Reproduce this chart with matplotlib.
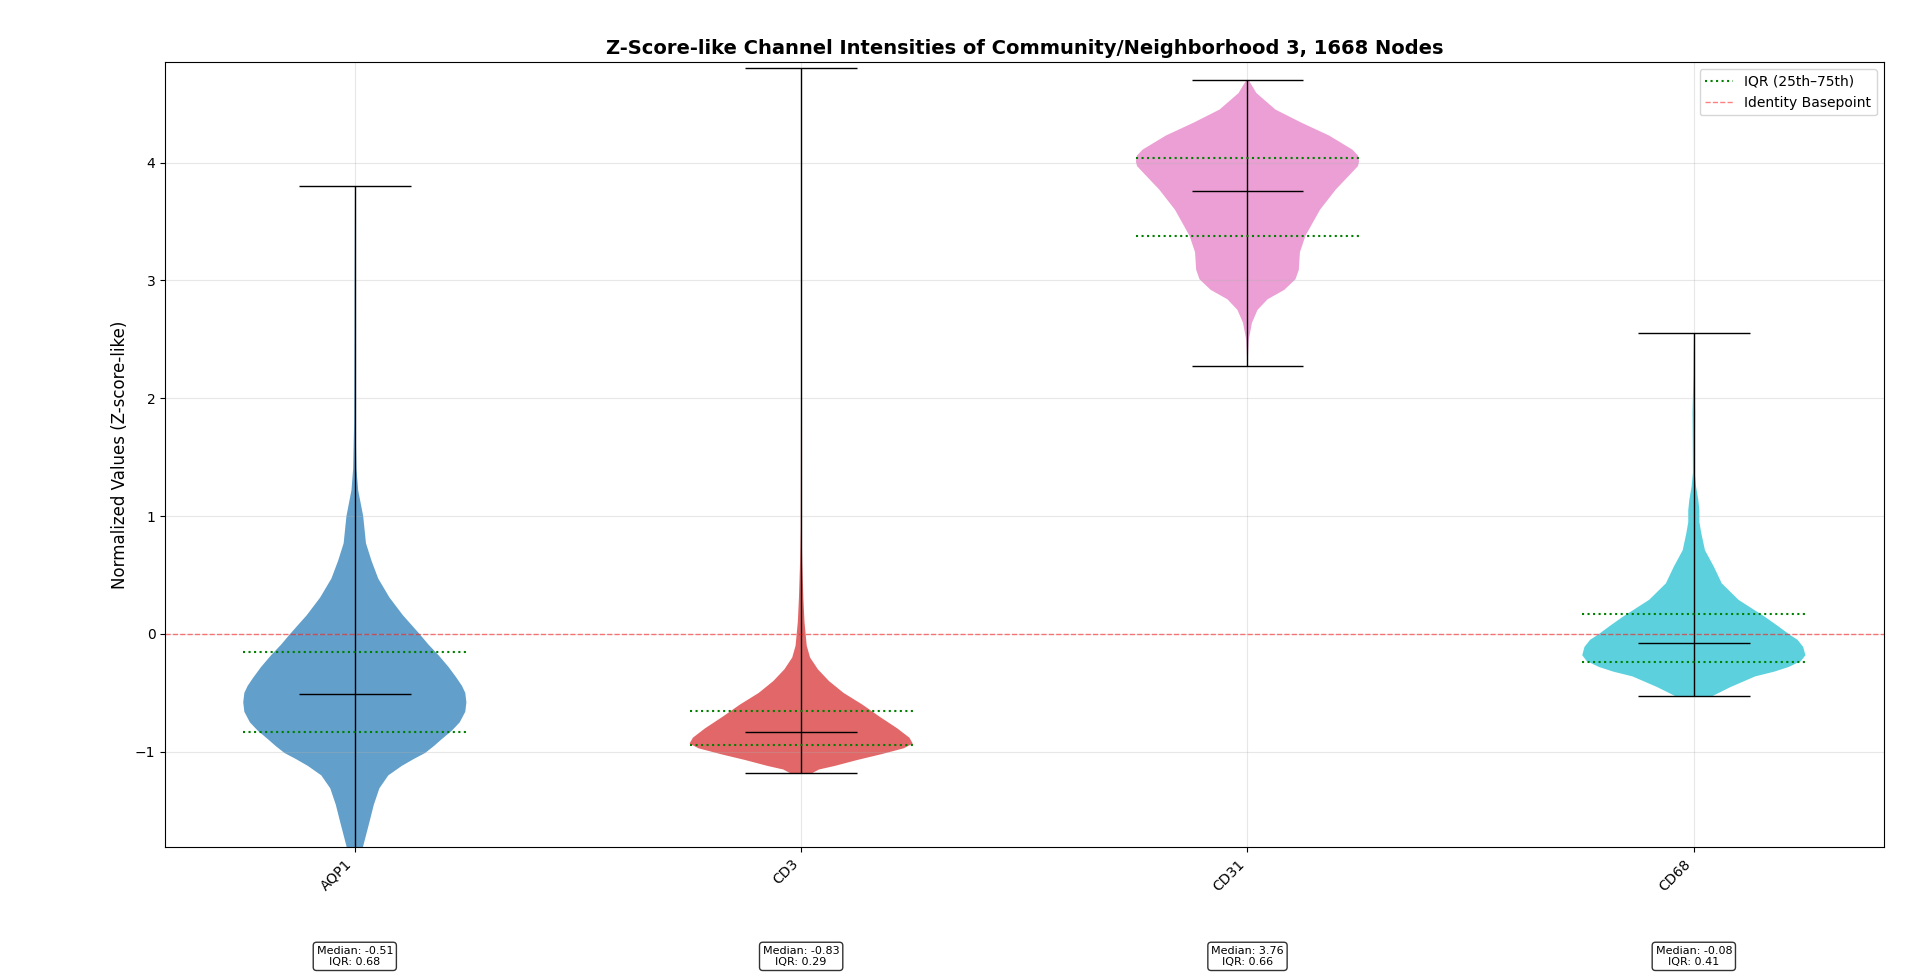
import numpy as np
import matplotlib
matplotlib.use("Agg")
import matplotlib.pyplot as plt
import matplotlib.transforms as mtransforms

channels = ["AQP1", "CD3", "CD31", "CD68"]
medians = [-0.51, -0.83, 3.76, -0.08]
q25 = [-0.83, -0.94, 3.38, -0.24]
q75 = [-0.15, -0.65, 4.04, 0.17]
iqr_vals = [0.68, 0.29, 0.66, 0.41]
mins = [-2.10, -1.18, 2.27, -0.53]
maxs = [3.80, 4.80, 4.70, 2.55]

# density outlines (value, relative half-width)
aqp1_y = [-2.10, -2.00, -1.80, -1.60, -1.45, -1.31, -1.20, -1.12, -1.06, -1.01, -0.95, -0.90,
          -0.82, -0.75, -0.66, -0.58, -0.50, -0.44, -0.37, -0.28, -0.18, -0.09, 0.00, 0.16,
          0.31, 0.47, 0.62, 0.77, 1.00, 1.22, 1.40, 1.80, 2.50, 3.80]
aqp1_w = [0.02, 0.04, 0.075, 0.13, 0.17, 0.22, 0.30, 0.42, 0.53, 0.63, 0.71, 0.77,
          0.87, 0.94, 0.99, 1.00, 0.99, 0.96, 0.91, 0.84, 0.75, 0.66, 0.58, 0.43,
          0.31, 0.21, 0.15, 0.10, 0.075, 0.03, 0.015, 0.006, 0.003, 0.0]

cd3_y = [-1.18, -1.15, -1.12, -1.07, -1.02, -0.97, -0.93, -0.88, -0.80, -0.70, -0.60, -0.50,
         -0.40, -0.30, -0.20, -0.10, 0.10, 0.30, 0.60, 0.90, 2.00, 4.80]
cd3_w = [0.10, 0.16, 0.30, 0.50, 0.72, 0.92, 1.00, 0.97, 0.86, 0.70, 0.55, 0.38,
         0.25, 0.15, 0.08, 0.05, 0.03, 0.02, 0.01, 0.004, 0.001, 0.0]

cd31_y = [2.27, 2.50, 2.64, 2.75, 2.84, 2.92, 3.01, 3.09, 3.24, 3.38, 3.60, 3.77, 3.92,
          3.97, 4.01, 4.06, 4.11, 4.23, 4.34, 4.45, 4.59, 4.70]
cd31_w = [0.0, 0.012, 0.04, 0.09, 0.18, 0.33, 0.43, 0.46, 0.47, 0.52, 0.65, 0.79, 0.94,
          0.99, 1.00, 0.99, 0.94, 0.73, 0.48, 0.25, 0.08, 0.01]

cd68_y = [-0.53, -0.45, -0.36, -0.32, -0.28, -0.23, -0.18, -0.11, -0.05, 0.00, 0.07, 0.15,
          0.29, 0.43, 0.57, 0.71, 0.86, 0.95, 1.05, 1.14, 1.25, 1.37, 1.65, 1.88, 2.20, 2.55]
cd68_w = [0.16, 0.33, 0.55, 0.72, 0.85, 0.96, 1.00, 0.98, 0.93, 0.85, 0.75, 0.63,
          0.40, 0.25, 0.18, 0.10, 0.066, 0.05, 0.05, 0.04, 0.02, 0.008, 0.01, 0.012, 0.003, 0.0]

profiles = [(aqp1_y, aqp1_w), (cd3_y, cd3_w), (cd31_y, cd31_w), (cd68_y, cd68_w)]

plt.rcParams['font.family'] = ['DejaVu Sans']
fig = plt.figure(figsize=(19.2, 9.75), dpi=100)
ax = fig.add_axes([0.086, 0.131, 0.895, 0.805])

positions = np.arange(1, len(channels) + 1)
vpstats = []
for i in range(len(channels)):
    cy, cw = profiles[i]
    vpstats.append(dict(coords=np.array(cy), vals=np.array(cw), mean=medians[i],
                        median=medians[i], min=mins[i], max=maxs[i]))

parts = ax.violin(vpstats, positions=positions, widths=0.5, showmeans=False,
                  showextrema=True, showmedians=True)
colors = plt.cm.tab10(np.linspace(0, 1, len(channels)))
for body, c in zip(parts['bodies'], colors):
    body.set_facecolor(c)
    body.set_edgecolor('none')
    body.set_alpha(0.7)
for key in ['cbars', 'cmins', 'cmaxes', 'cmedians']:
    parts[key].set_color('black')
    parts[key].set_linewidth(1.0)

for i, p in enumerate(positions):
    lbl = 'IQR (25th–75th)' if i == 0 else None
    ax.hlines([q25[i], q75[i]], p - 0.25, p + 0.25, colors='green', linestyles=':',
              linewidth=1.5, label=lbl)

ax.axhline(0, color='red', linestyle='--', alpha=0.5, linewidth=1, label='Identity Basepoint')

ax.set_ylim(-1.81, 4.85)
ax.set_xticks(positions)
ax.set_xticklabels(channels, rotation=45, ha='right', fontsize=10)
ax.set_ylabel('Normalized Values (Z-score-like)', fontsize=12)
ax.set_title('Z-Score-like Channel Intensities of Community/Neighborhood 3, 1668 Nodes',
             fontsize=14, fontweight='bold')
ax.grid(True, alpha=0.3)
ax.legend(loc='upper right', fontsize=10)

trans = mtransforms.blended_transform_factory(ax.transData, ax.transAxes)
for i, p in enumerate(positions):
    ax.text(p, -0.139, f'Median: {medians[i]:.2f}\nIQR: {iqr_vals[i]:.2f}', transform=trans,
            ha='center', va='center', fontsize=8,
            bbox=dict(boxstyle='round,pad=0.3', facecolor='white', edgecolor='black', alpha=0.8))

fig.savefig('out.png', dpi=100)
